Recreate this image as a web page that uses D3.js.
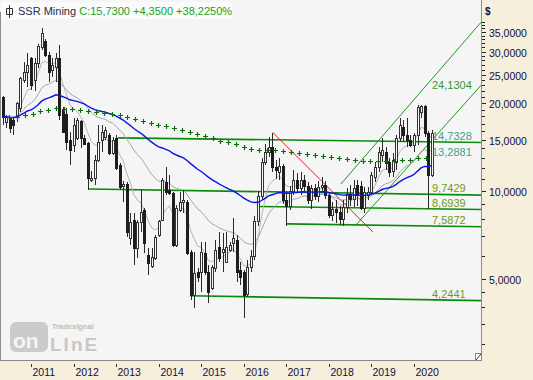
<!DOCTYPE html>
<html><head><meta charset="utf-8">
<script src="https://d3js.org/d3.v7.min.js"></script>
<style>
html,body{margin:0;padding:0;background:#f6efdc;}
svg{display:block;font-family:"Liberation Sans",Arial,sans-serif;}
</style></head><body>
<svg id="chart" width="533" height="380"></svg>
<script>
// ---- data (monthly candles, first candle = May 2010) ----
const firstYear = 2010, firstMonth = 5;
const openV  = [20.9,17.2,17.8,17.5,17.9,19.2,24.0,25.6,28.5,24.0,27.4,31.1,32.6,29.2,26.0,26.6,28.5,18.9,18.4,14.95,14.4,15.2,17.4,15.2,14.6,10.9,11.1,12.8,14.95,15.3,15.6,13.5,15.2,12.3,10.4,10.6,6.9,7.96,6.38,7.84,8.61,6.04,5.54,5.9,7.07,7.96,10.7,10.08,9.85,6.53,8.61,9.16,9.16,6.19,4.41,5.28,5.28,6.14,5.28,4.66,5.45,6.43,6.19,5.72,6.28,6.63,6.79,5.36,5.28,4.45,5.5,6.0,7.9,9.6,12.6,13.6,14.1,12.1,11.6,12.2,9.3,8.9,10.0,10.9,10.2,10.9,10.4,9.3,10.2,9.6,10.3,10.5,9.7,8.3,8.7,8.5,8.0,8.8,9.8,9.4,10.5,10.4,8.75,9.69,9.93,11.2,12.1,13.3,13.6,12.6,11.7,12.6,15.2,16.55,15.6,14.95,14.4,15.6,18.6,19.5,15.85,11.38];
const highV  = [21.1,18.2,17.9,17.8,20.2,24.6,27.7,29.7,28.8,28.5,31.9,36.0,33.1,29.9,28.5,29.7,31.6,19.4,19.2,15.95,17.8,17.8,17.5,15.6,14.7,11.7,13.3,16.8,16.8,16.5,15.85,15.3,15.6,12.5,10.8,10.7,8.41,8.41,7.96,10.08,8.75,6.38,6.38,7.07,7.96,11.1,12.1,11.35,9.93,8.95,9.93,10.08,9.31,6.28,6.19,5.45,6.68,6.68,5.58,5.58,6.79,7.24,7.18,7.24,6.68,8.08,7.07,5.72,5.36,5.8,6.3,8.2,10.0,13.0,14.5,15.3,15.85,12.8,13.0,12.4,10.0,10.4,11.8,11.5,11.6,11.3,10.7,10.5,10.6,10.8,11.2,10.8,9.9,9.2,9.3,8.9,9.3,10.2,10.5,10.9,10.9,10.8,10.3,10.3,11.6,12.6,14.15,15.2,14.15,13.0,13.45,15.6,17.8,17.5,17.8,15.6,15.85,19.7,19.7,19.7,16.0,16.2];
const lowV   = [16.8,16.4,15.85,15.6,17.2,18.6,23.5,22.6,22.2,21.9,26.4,30.4,28.8,23.6,24.6,23.6,17.5,15.85,13.8,12.3,13.6,14.95,14.0,14.4,10.1,10.7,10.5,12.6,13.6,14.95,13.3,13.3,11.8,10.1,9.2,6.96,6.53,5.58,5.9,7.24,6.14,5.16,5.45,5.8,6.96,7.9,9.69,9.69,6.43,6.43,8.47,8.41,6.04,4.25,3.97,4.88,4.51,5.16,4.13,4.58,5.28,5.72,5.28,5.67,6.19,6.19,4.88,4.77,3.67,4.35,5.3,5.8,7.6,9.3,12.3,13.1,11.6,11.0,10.9,9.0,7.59,8.6,9.7,9.9,9.7,10.0,9.0,8.7,9.3,9.2,9.9,9.4,8.1,7.9,7.8,7.65,7.6,8.4,8.9,8.8,8.87,8.61,8.41,9.31,9.69,10.75,11.6,12.6,11.8,11.2,11.2,11.8,14.7,14.7,14.15,14.15,13.6,14.4,17.8,15.3,8.69,11.2];
const closeV = [17.96,17.9,16.46,16.8,20.0,24.4,25.6,27.0,23.1,27.4,31.4,34.8,29.2,25.6,27.0,28.5,18.2,15.95,14.7,13.8,16.8,17.5,15.2,14.5,11.1,11.1,12.8,14.7,15.95,16.2,13.5,14.95,12.0,10.3,10.6,7.23,7.84,6.38,7.84,8.47,6.63,5.67,5.95,6.96,7.9,10.9,9.93,9.85,6.53,8.75,9.16,9.31,6.14,4.41,5.24,5.08,6.19,5.28,4.51,5.49,6.28,5.9,6.33,6.43,6.53,6.9,5.28,5.08,4.41,5.5,6.0,7.9,9.6,12.6,13.6,14.1,12.1,11.8,12.2,9.3,8.9,10.0,10.9,10.2,10.9,10.4,9.3,10.2,9.6,10.3,10.5,9.7,8.3,8.7,8.5,8.0,8.8,9.8,9.4,10.2,9.69,8.75,9.93,9.93,11.35,12.1,13.6,13.8,12.5,11.6,12.77,15.2,16.8,15.6,14.95,14.4,15.6,19.35,19.5,15.85,11.38,15.73];

// axes
const yearLabels = ["2011","2012","2013","2014","2015","2016","2017","2018","2019","2020"];
const priceTicks = [5,10,15,20,25,30,35];
const minorTicks = [3,3.5,4,4.5,6,7,8,9,11,12,13,14,16,17,18,19,21,22,23,24,26,27,28,29,31,32,33,34,36,37,38];

// horizontal support / resistance lines: start bar, value at start, value at last bar
const hStartIdx = [32.5, 24.4, 72.6, 80.2, 52.8];
const hStartVal = [15.2, 10.16, 8.85, 7.72, 4.38];
const hEndVal   = [14.7328, 9.7429, 8.6939, 7.5872, 4.2441];
const hLabels   = ["14,7328", "9,7429", "8,6939", "7,5872", "4,2441"];
// trend channel lines (two anchor points each)
const chIdxA = [95.4, 99.4];
const chValA = [10.57, 7.6];
const chIdxB = [121, 121];
const chValB = [24.1304, 14.9];
// red down trend line
const redIdx = [76.2, 104.4];
const redVal = [15.85, 7.24];
const emaLabel = "13,2881";

// ---- geometry ----
const svg = d3.select("#chart");
const PL = 0, PR = 482, PT = 12, PB = 361;
const N = closeV.length;
const idxOfYear = y => (y - firstYear) * 12 - (firstMonth - 1);
const x = d3.scaleLinear().domain([idxOfYear(2011), idxOfYear(2020)]).range([31, 414]);
const y = d3.scaleLog().domain([10, 35]).range([191, 191 - 292.3 * Math.log10(3.5)]);

// background
svg.append("rect").attr("x", 0).attr("y", 0).attr("width", 533).attr("height", 380).attr("fill", "#f6efdc");
svg.append("rect").attr("x", PL).attr("y", 0).attr("width", PR - PL).attr("height", PB).attr("fill", "#f5f5f5");

const defs = svg.append("defs");
defs.append("clipPath").attr("id", "clip").append("rect")
  .attr("x", PL + 1).attr("y", 0).attr("width", PR - PL - 1).attr("height", PB);
const g = svg.append("g").attr("clip-path", "url(#clip)");

// watermark
const wm = svg.append("g");
wm.append("rect").attr("x", 10).attr("y", 322).attr("width", 38).attr("height", 30).attr("rx", 6).attr("fill", "#cbcbcb");
wm.append("text").attr("x", 13).attr("y", 348).attr("font-size", 21).attr("font-weight", "bold").attr("fill", "#f5f5f5").text("on");
wm.append("text").attr("x", 50).attr("y", 351).attr("font-size", 19).attr("font-weight", "bold").attr("fill", "#c8c8c8").attr("letter-spacing", 2).text("LInE");
wm.append("text").attr("x", 52).attr("y", 329).attr("font-size", 7.5).attr("font-weight", "bold").attr("fill", "#bdbdbd").text("Tradesignal");

const idx = d3.range(N);

// moving averages computed from closes
function ema(arr, n) { const a = 2 / (n + 1); let e = arr[0]; return arr.map((v, i) => i ? (e = e + a * (v - e)) : e); }
const emaFast = ema(closeV, 8);
const emaMid = ema(closeV, 24);
const emaBlue = ema(closeV, 52);
const emaSlow = ema(closeV, 160);

const line = arr => d3.line().x((d, i) => x(i)).y(d => y(d))(arr);

// horizontal lines
hStartIdx.forEach((s, k) => {
  const x1 = x(s), y1 = y(hStartVal[k]), x2 = x(N - 1), y2 = y(hEndVal[k]);
  const slope = (y2 - y1) / (x2 - x1);
  g.append("line").attr("x1", x1).attr("y1", y1).attr("x2", PR).attr("y2", y1 + slope * (PR - x1))
    .attr("stroke", "#0a8a0a").attr("stroke-width", 1.6);
});
// channel lines
chIdxA.forEach((s, k) => {
  const x1 = x(s), y1 = y(chValA[k]), x2 = x(chIdxB[k]), y2 = y(chValB[k]);
  const slope = (y2 - y1) / (x2 - x1);
  g.append("line").attr("x1", x1).attr("y1", y1).attr("x2", PR).attr("y2", y1 + slope * (PR - x1))
    .attr("stroke", "#1a9a1a").attr("stroke-width", 1);
});
// red line
g.append("line").attr("x1", x(redIdx[0])).attr("y1", y(redVal[0])).attr("x2", x(redIdx[1])).attr("y2", y(redVal[1]))
  .attr("stroke", "#ff1010").attr("stroke-width", 1);

// gray MAs
g.append("path").attr("d", line(emaMid)).attr("fill", "none").attr("stroke", "#a6a6a6").attr("stroke-width", 1);
g.append("path").attr("d", line(emaFast)).attr("fill", "none").attr("stroke", "#b4b4b4").attr("stroke-width", 1);

// candles
const cg = g.append("g");
idx.forEach(i => {
  const cx = Math.round(x(i));
  const o = openV[i], c = closeV[i], h = highV[i], l = lowV[i];
  const up = c >= o;
  cg.append("line").attr("x1", cx + 0.5).attr("x2", cx + 0.5).attr("y1", Math.round(y(h))).attr("y2", Math.round(y(l)))
    .attr("stroke", "#2a2a2a").attr("stroke-width", 1);
  const yt = Math.round(y(Math.max(o, c))), yb = Math.round(y(Math.min(o, c)));
  cg.append("rect").attr("x", cx - 0.5).attr("y", yt + 0.5).attr("width", 2).attr("height", Math.max(1, yb - yt))
    .attr("fill", up ? "#f8f8f8" : "#1e1e1e").attr("stroke", up ? "#333" : "#1e1e1e").attr("stroke-width", 1);
});

// blue MA
g.append("path").attr("d", line(emaBlue)).attr("fill", "none").attr("stroke", "#0a14e6").attr("stroke-width", 1.4);

// crosses MA
const slowPath = g.append("path").attr("d", line(emaSlow)).attr("fill", "none").attr("stroke", "none");
const node = slowPath.node(), L = node.getTotalLength();
for (let s = 6.5; s < L; s += 8) {
  const p = node.getPointAtLength(s);
  g.append("path").attr("d", `M${Math.round(p.x) - 2},${Math.round(p.y) + 0.5}h5M${Math.round(p.x) + 0.5},${Math.round(p.y) - 2}v5`)
    .attr("stroke", "#0b6e0b").attr("stroke-width", 1.2);
}

// labels on right side
const lblG = svg.append("g").attr("font-size", 11);
hEndVal.forEach((v, k) => {
  lblG.append("text").attr("x", 432).attr("y", y(v) - 2).attr("fill", k === 0 ? "#3aa38f" : "#6f9a16").text(hLabels[k]);
});
lblG.append("text").attr("x", 432).attr("y", y(13.2881) + 1).attr("fill", "#3aa38f").text(emaLabel);
lblG.append("text").attr("x", 432).attr("y", y(24.1304) + 10).attr("fill", "#2f9a2f").text("24,1304");

// borders
svg.append("line").attr("x1", 0.5).attr("x2", 0.5).attr("y1", PT).attr("y2", PB).attr("stroke", "#8c8c8c");
svg.append("line").attr("x1", PR - 0.5).attr("x2", PR - 0.5).attr("y1", 0).attr("y2", PB).attr("stroke", "#8c8c8c");
svg.append("line").attr("x1", 0).attr("x2", PR).attr("y1", PB - 0.5).attr("y2", PB - 0.5).attr("stroke", "#8c8c8c");
// corner icon
svg.append("rect").attr("x", 475.5).attr("y", 353.5).attr("width", 6).attr("height", 7).attr("fill", "#fff").attr("stroke", "#888");
svg.append("line").attr("x1", 476).attr("y1", 360).attr("x2", 481).attr("y2", 354).attr("stroke", "#333");

// right axis
const ax = svg.append("g").attr("fill", "#10103a").attr("font-size", 10.5);
priceTicks.forEach(v => {
  const yy = Math.round(y(v)) + 0.5;
  svg.append("line").attr("x1", PR).attr("x2", PR + 4).attr("y1", yy).attr("y2", yy).attr("stroke", "#222");
  ax.append("text").attr("x", 489).attr("y", yy + 4).text(d3.format(".4f")(v).replace(".", ","));
});
minorTicks.forEach(v => {
  const yy = Math.round(y(v)) + 0.5;
  svg.append("line").attr("x1", PR).attr("x2", PR + 3).attr("y1", yy).attr("y2", yy).attr("stroke", "#222");
});
ax.append("text").attr("x", 485).attr("y", 15).attr("font-weight", "bold").attr("font-size", 10).text("$");

// x axis
yearLabels.forEach(lbl => {
  const xx = Math.round(x(idxOfYear(+lbl))) + 0.5;
  svg.append("line").attr("x1", xx).attr("x2", xx).attr("y1", 364).attr("y2", 367).attr("stroke", "#333");
  ax.append("text").attr("x", xx + 1).attr("y", 376).text(lbl);
});

// title
svg.append("rect").attr("x", 1).attr("y", 2).attr("width", 231).attr("height", 17).attr("fill", "#fbfbfb");
svg.append("path").attr("d", "M9.5,5v13M6.5,8.5h6v6h-6z").attr("fill", "#fbfbfb").attr("stroke", "#333");
const title = svg.append("text").attr("x", 18).attr("y", 15).attr("font-size", 11);
title.append("tspan").attr("fill", "#2c2c4c").text("SSR Mining ");
title.append("tspan").attr("fill", "#16a316").text("C:15,7300 +4,3500 +38,2250%");
</script>
</body></html>
